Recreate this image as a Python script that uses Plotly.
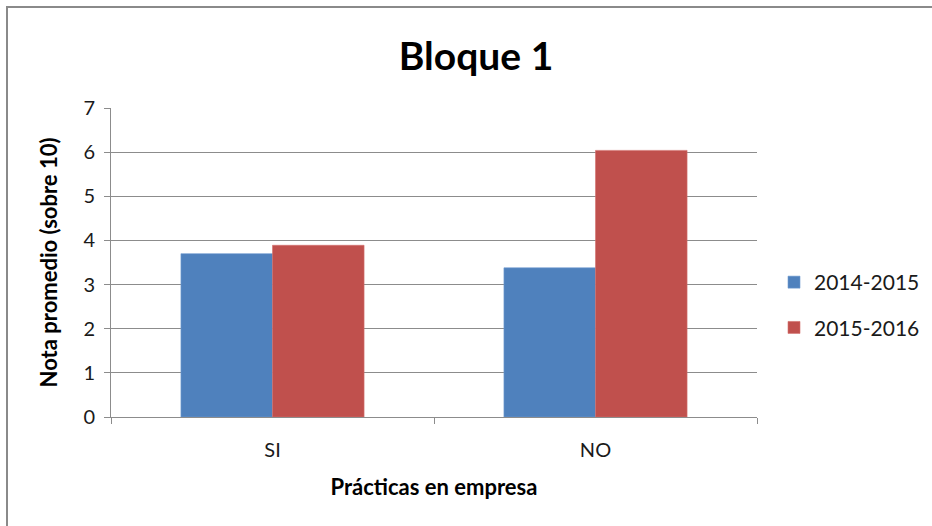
import plotly.graph_objects as go

# Datos: nota promedio por práctica en empresa y curso
categorias = ["SI", "NO"]
serie_2014_2015 = [3.70, 3.38]
serie_2015_2016 = [3.89, 6.04]
nombres_series = ["2014-2015", "2015-2016"]
colores = ["#4F81BD", "#C0504D"]
bordes = ["#6F9BD0", "#D4706D"]

W, H = 932, 526
L, R, T, B = 111, 175, 108, 109

fig = go.Figure()
for nombre, valores, color, borde in zip(nombres_series, [serie_2014_2015, serie_2015_2016], colores, bordes):
    fig.add_trace(go.Bar(
        x=categorias, y=valores, name=nombre, legendgroup=nombre,
        marker=dict(color=color, line=dict(color=borde, width=0.6)),
    ))

fuente = "Lato, 'Open Sans', sans-serif"

fig.update_layout(
    width=W, height=H,
    margin=dict(l=L, r=R, t=T, b=B, autoexpand=False),
    paper_bgcolor="white", plot_bgcolor="white",
    barmode="group", bargap=0.433, bargroupgap=0,
    title=dict(text="<b>Bloque 1</b>", x=476 / W, xanchor="center",
               y=1 - 56 / H, yanchor="middle",
               font=dict(family=fuente, size=39, color="#000000")),
    font=dict(family=fuente, size=20, color="#1a1a1a"),
    legend=dict(x=(774 - L) / (W - L - R), xanchor="left",
                y=(H - B - 305) / (H - T - B), yanchor="middle",
                font=dict(size=21, color="#1a1a1a"),
                itemwidth=30, tracegroupgap=15, bgcolor="rgba(0,0,0,0)"),
    showlegend=True,
)

fig.update_xaxes(
    type="category", range=[-0.5, 1.5], tickson="boundaries",
    ticks="outside", ticklen=6, tickcolor="#8c8c8c", tickwidth=1,
    ticklabelstandoff=15,
    showline=True, linecolor="#8c8c8c", linewidth=1,
    showgrid=False, zeroline=False,
    tickfont=dict(size=20, color="#1a1a1a"),
    title=dict(text="<b>Prácticas en empresa</b>", standoff=19,
               font=dict(size=22, color="#000000")),
)

fig.update_yaxes(
    range=[0, 7], dtick=1,
    ticks="outside", ticklen=6, tickcolor="#8c8c8c", tickwidth=1,
    ticklabelstandoff=5,
    showline=True, linecolor="#8c8c8c", linewidth=1,
    showgrid=True, gridcolor="#8c8c8c", gridwidth=1,
    zeroline=False,
    tickfont=dict(size=20, color="#1a1a1a"),
    title=dict(text="<b>Nota promedio (sobre 10)</b>", standoff=19,
               font=dict(size=22, color="#000000")),
)

# Marco del gráfico (visible arriba y a la izquierda)
fig.add_shape(type="rect", xref="paper", yref="paper",
              x0=(7 - L) / (W - L - R), x1=(W + 20 - L) / (W - L - R),
              y0=(H - B - (H + 20)) / (H - T - B), y1=(H - B - 7) / (H - T - B),
              line=dict(color="#8a8a8a", width=2), layer="below")

fig.write_html("out.html")
